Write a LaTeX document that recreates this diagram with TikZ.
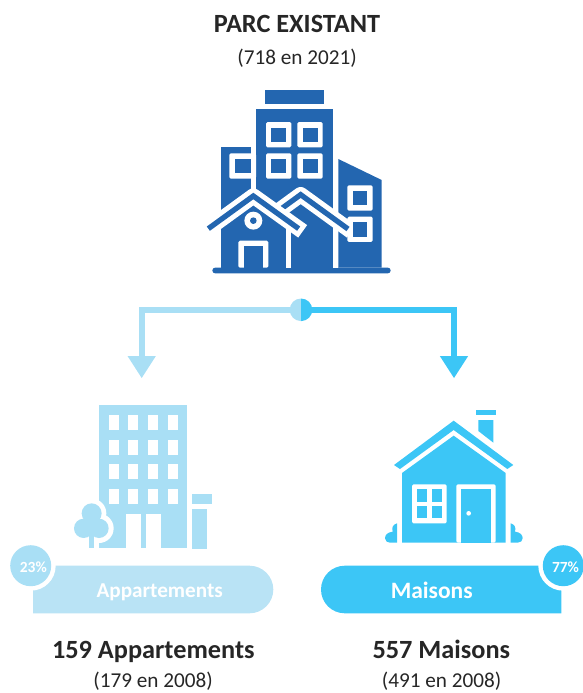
\documentclass[tikz,border=0pt]{standalone}
\usepackage{fontspec}
\setmainfont{Carlito}
\usetikzlibrary{arrows.meta}
\definecolor{navy}{HTML}{2366B0}
\definecolor{pale}{HTML}{A9DFF5}
\definecolor{palebar}{HTML}{B9E3F5}
\definecolor{sky}{HTML}{3CC6F6}
\definecolor{ink}{HTML}{262626}
\tikzset{
  title/.style={anchor=base,font=\fontsize{26.3}{30}\selectfont\bfseries,text=ink,inner sep=0pt},
  sub/.style={anchor=base,font=\fontsize{21.2}{24}\selectfont,text=ink,inner sep=0pt},
  bartext/.style={anchor=base,font=\fontsize{21.2}{24}\selectfont\bfseries,text=white,inner sep=0pt},
  pcttext/.style={anchor=base,font=\fontsize{15.5}{18}\selectfont\bfseries,text=white,inner sep=0pt},
  disc/.style={circle,minimum size=41pt,inner sep=0pt,outer sep=0pt},
  halo/.style={circle,minimum size=50pt,inner sep=0pt,outer sep=0pt,fill=white},
  z1/.style={shift={(190,80)},x=0.33333pt,y=-0.33333pt},
  z2/.style={shift={(0,395)},x=0.33333pt,y=-0.33333pt},
  z3/.style={shift={(300,395)},x=0.33333pt,y=-0.33333pt},
  roofw/.style={draw=white,line width=15.3pt,line join=round},
  roofb/.style={draw=navy,line width=5.3pt,line join=miter},
  link/.style={line width=5.7pt,line join=miter,-{Triangle[width=26.7pt,length=22.3pt]}},
}
\begin{document}
\begin{tikzpicture}[x=1pt,y=-1pt]
\useasboundingbox (0,0) rectangle (582,693);

\node[title] (t0) at (297,32.3) {PARC EXISTANT};
\node[sub] (s0) at (297,65) {(718 en 2021)};

% Existing stock icon
\begin{scope}[z1]
  \fill[navy] (225,30) rectangle (402,72);
  \fill[navy] (94,202) rectangle (182,563);
  \fill[navy] (198,88) rectangle (428,563);
  \fill[navy] (445,237) -- (575,300) -- (575,563) -- (445,563) -- cycle;
  \fill[navy] (94,350) rectangle (430,563);
  \fill[navy,rounded corners=2.8pt] (67,563) rectangle (602,580);
  % windows
  \foreach \a/\b in {228/126,322/126,228/220,322/220,472/316,472/410}
    \fill[white,rounded corners=1.5pt] (\a,\b) rectangle +(76,76);
  \fill[white,rounded corners=1.5pt] (118,220) rectangle (198,296);
  \fill[navy] (135,238) rectangle (182,280);
  \foreach \a/\b in {243/143,339/143,243/237,339/237}
    \fill[navy] (\a,\b) rectangle +(46,43);
  % walls
  \fill[white] (288,445) rectangle (304,563);
  \fill[white] (430,430) rectangle (445,563);
  % roofs
  \draw[roofw] (262,395) -- (332,344) -- (484,454);
  \draw[roofb] (262,395) -- (332,344) -- (474,447);
  \draw[roofw] (55,446) -- (190,348) -- (338,454);
  \draw[roofb] (55,446) -- (190,348) -- (326,446);
  \fill[navy] (488,332) rectangle (532,376);
  \fill[navy] (488,427) rectangle (532,470);
  % door and oculus
  \fill[white,rounded corners=1.5pt] (145,563) -- (145,482) -- (235,482) -- (235,563) -- cycle;
  \fill[navy] (162,497) rectangle (218,563);
  \fill[white] (190,422) circle[radius=27];
  \fill[navy] (190,422) circle[radius=10];
\end{scope}

% Connector
\coordinate (hub) at (301,309.8);
\coordinate (tipL) at (141.7,378.3);
\coordinate (tipR) at (454,378.3);
\draw[link,pale] (hub) -| (tipL);
\draw[link,sky] (hub) -| (tipR);
\fill[pale] (hub) ++(0,-11.3) arc[start angle=-90,end angle=-270,radius=11.3] -- cycle;
\fill[sky] (hub) ++(0,-11.3) arc[start angle=-90,end angle=90,radius=11.3] -- cycle;

% Apartment icon
\begin{scope}[z2]
  \fill[pale] (297,30) rectangle (562,459);
  \foreach \a in {326,385,444,503}
    \foreach \b in {60,134,207,282}
      \fill[white] (\a,\b) rectangle +(30,45);
  \fill[white] (378,356) rectangle (423,460);
  \fill[white] (437,356) rectangle (482,460);
  \fill[white] (275,355) circle[radius=44];
  \fill[white] (297,400) circle[radius=44];
  \fill[white] (260,430) rectangle (297,460);
  \fill[pale] (275,355) circle[radius=30];
  \fill[pale] (251,400) circle[radius=29];
  \fill[pale] (297,400) circle[radius=29];
  \fill[pale] (267,415) rectangle (282,459);
  \fill[pale] (576,297) rectangle (636,327);
  \fill[pale] (576,342) rectangle (622,462);
\end{scope}

% House icon
\begin{scope}[z3]
  \fill[sky] (528,45) rectangle (588,60);
  \fill[sky] (535,75) -- (580,75) -- (580,143) -- (535,108) -- cycle;
  \fill[sky] (282,210) -- (461,77) -- (640,210) -- (622,222) -- (461,105) -- (300,222) -- cycle;
  \fill[sky] (306,234) -- (461,122) -- (617,234) -- (617,443) -- (306,443) -- cycle;
  \fill[white,rounded corners=1.5pt] (336,268) rectangle (440,385);
  \foreach \a/\b in {351/283,396/283,351/332,396/332}
    \fill[sky] (\a,\b) rectangle +(30,38);
  \fill[white,rounded corners=1.5pt] (469,443) -- (469,268) -- (587,268) -- (587,443) -- cycle;
  \fill[sky] (484,283) rectangle (572,443);
  \fill[white] (506,355) circle[radius=7];
  \fill[sky] (291,443) -- (291,385) .. controls (280,388) and (274,396) .. (278,410) .. controls (262,412) and (255,420) .. (255,430) .. controls (255,438) and (262,443) .. (270,443) -- cycle;
  \fill[sky] (632,443) -- (632,385) .. controls (643,388) and (649,396) .. (645,410) .. controls (661,412) and (668,420) .. (668,430) .. controls (668,438) and (661,443) .. (653,443) -- cycle;
\end{scope}

% Bars
\fill[palebar] (33,565.7) -- (249.5,565.7) arc[start angle=-90,end angle=90,radius=23.8] -- (33,613.3) -- cycle;
\fill[sky] (561.3,565.7) -- (344.8,565.7) arc[start angle=-90,end angle=-270,radius=23.8] -- (561.3,613.3) -- cycle;

\node[halo] (ha) at (30.7,565.7) {};
\node[disc,fill=pale] (da) at (30.7,565.7) {};
\node[pcttext] (pa) at (33.3,572.3) {23\%};
\node[halo] (hm) at (563.3,565.7) {};
\node[disc,fill=sky] (dm) at (563.3,565.7) {};
\node[pcttext] (pm) at (565.5,572.3) {77\%};

\node[bartext] (ba) at (159.7,597.8) {Appartements};
\node[bartext,font=\fontsize{23.5}{26}\selectfont\bfseries] (bm) at (431.7,598.3) {Maisons};

\node[title] (ta) at (153.3,658.3) {159 Appartements};
\node[sub] (sa) at (153,687.5) {(179 en 2008)};
\node[title] (tm) at (441.3,658.3) {557 Maisons};
\node[sub] (sm) at (441.5,687.5) {(491 en 2008)};
\end{tikzpicture}
\end{document}
